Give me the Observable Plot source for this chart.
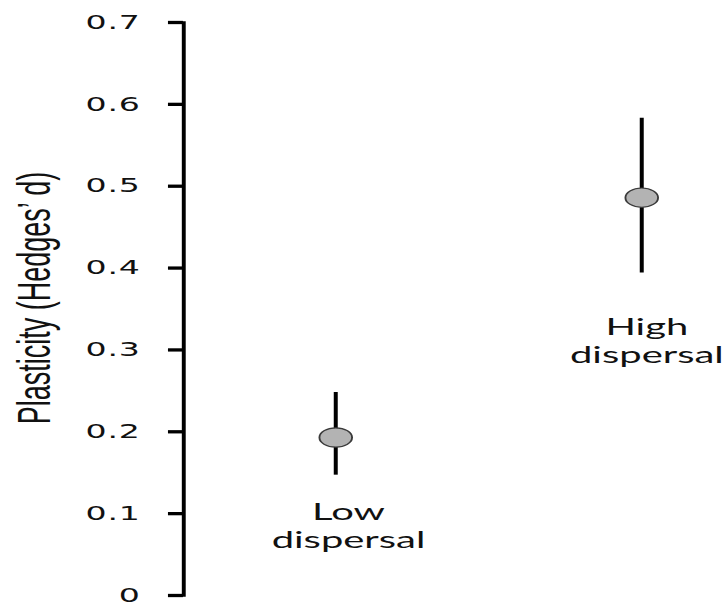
<!DOCTYPE html>
<html><head><meta charset="utf-8">
<script src="https://cdn.jsdelivr.net/npm/d3@7"></script>
<script src="https://cdn.jsdelivr.net/npm/@observablehq/plot@0.6"></script>
<style>
html,body{margin:0;padding:0;background:#fff;}
#chart svg{display:block;}
</style></head><body><div id="chart"></div>
<script>
// ---- data ----
const groups = ["Low", "High"];
const groupLabels = ["Low\ndispersal", "High\ndispersal"];
const means = [0.193, 0.486];
const lower = [0.147, 0.394];
const upper = [0.248, 0.583];
const yTicks = [0, 0.1, 0.2, 0.3, 0.4, 0.5, 0.6, 0.7];
const yTickLabels = ["0", "0.1", "0.2", "0.3", "0.4", "0.5", "0.6", "0.7"];
const yLabel = "Plasticity (Hedges\u2019 d)";

const data = groups.map((g, i) => ({group: g, label: groupLabels[i], mean: means[i], lo: lower[i], hi: upper[i]}));

// ---- layout (the original figure is horizontally stretched) ----
const W = 725, H = 606, S = 1.7;
const w = W / S;
const labelFont = "Lato, 'Open Sans', sans-serif";

const plot = Plot.plot({
  width: w, height: H,
  marginTop: 22, marginBottom: 11, marginLeft: 107.6, marginRight: 0,
  x: {type: "point", domain: groups, range: [196.5, 376.5], padding: 0, axis: null},
  y: {domain: [0, 0.7], axis: null},
  style: {background: "#fff", fontFamily: "'DejaVu Sans', sans-serif", fontSize: "19.5px", color: "#000"},
  marks: [
    Plot.frame({anchor: "left", stroke: "#000", strokeWidth: 2.3}),
    Plot.axisY({ticks: yTicks, tickFormat: (d, i) => yTickLabels[i], tickSize: 8.8, tickPadding: 16.5,
      strokeWidth: 3.3, stroke: "#000", fill: "#111", fontSize: 19.5, label: null}),
    Plot.text([yLabel], {frameAnchor: "left", textAnchor: "middle", dx: -87.6, dy: -11, rotate: -90,
      fontSize: 27, fontFamily: "'Liberation Sans', Arial, sans-serif", fill: "#111"}),
    Plot.ruleX(data, {x: "group", y1: "lo", y2: "hi", stroke: "#000", strokeWidth: 2.35}),
    Plot.dot(data, {x: "group", y: "mean", r: 9.6, fill: "#b3b3b3", stroke: "#3a3a3a", strokeWidth: 1.1}),
    Plot.text(data.filter(d => d.group === "Low"), {x: "group", y: "lo", text: "label", dx: 7.5, dy: 25,
      lineAnchor: "top", lineHeight: 1.2, fontSize: 23.5, fontFamily: labelFont, fill: "#111"}),
    Plot.text(data.filter(d => d.group === "High"), {x: "group", y: "lo", text: "label", dx: 3, dy: 42,
      lineAnchor: "top", lineHeight: 1.2, fontSize: 23.5, fontFamily: labelFont, fill: "#111"})
  ]
});

d3.select(plot).selectAll('g[aria-label*="tick label"]').style("letter-spacing", "0.5px");

plot.setAttribute("preserveAspectRatio", "none");
plot.setAttribute("width", W);
plot.setAttribute("height", H);
plot.style.width = W + "px";
plot.style.height = H + "px";
plot.style.maxWidth = "none";
document.getElementById("chart").appendChild(plot);
</script>
</body></html>
